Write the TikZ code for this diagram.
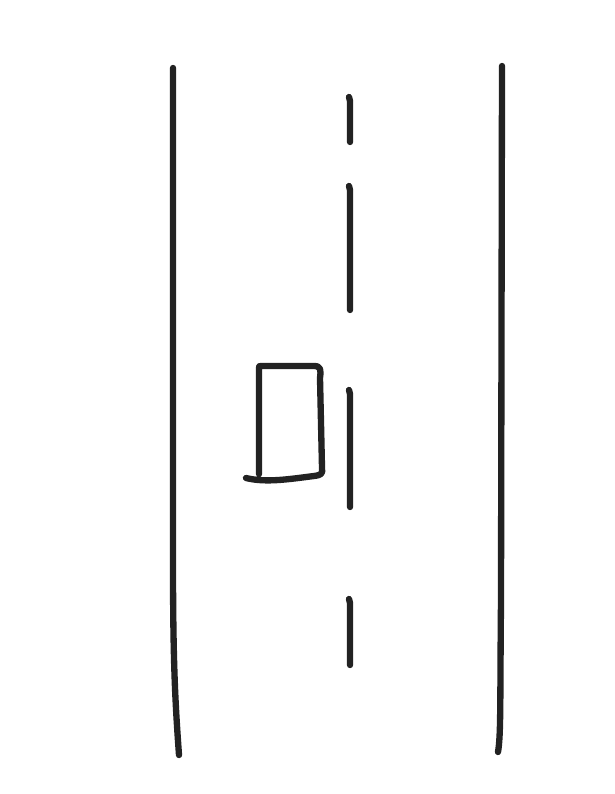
\documentclass[tikz,border=0pt]{standalone}
\usetikzlibrary{positioning}

\definecolor{ink}{HTML}{222222}

\begin{document}
\begin{tikzpicture}[
        x=0.01cm, y=-0.01cm,
        % Style for the hand drawn strokes
        stroke/.style={draw=ink, line width=1.8pt, line cap=round, line join=round},
        % Style for the lane marks
        lanemark/.style={stroke}
    ]

        % --- Canvas ---
        \useasboundingbox (0,0) rectangle (614,794);

        % --- Road edges ---
        \coordinate (leftTop) at (173,68);
        \coordinate (leftBottom) at (179,755);
        \coordinate (rightTop) at (502,66);
        \coordinate (rightBottom) at (498,752);

        \draw [stroke] (leftTop) -- (173,560) .. controls (173,660) and (175,700) .. (leftBottom);
        \draw [stroke] (rightTop) -- (501,600) .. controls (500,700) and (501,735) .. (rightBottom);

        % --- Centre line ---
        \foreach \top/\bottom in {97/142, 186/310, 390/507, 599/665}{
            \draw [lanemark] (349,\top) -- (350,\top+4) -- (350,\bottom);
        }

        % --- The car ---
        \draw [stroke] (259,474) -- (259,368) .. controls (259,366) .. (262,366) -- (314,366)
            .. controls (321,366) and (321,370) .. (320,378)
            -- (322,468) .. controls (323,474) and (321,475) .. (314,476)
            .. controls (290,479) and (266,483) .. (246,478);

    \end{tikzpicture}
\end{document}
